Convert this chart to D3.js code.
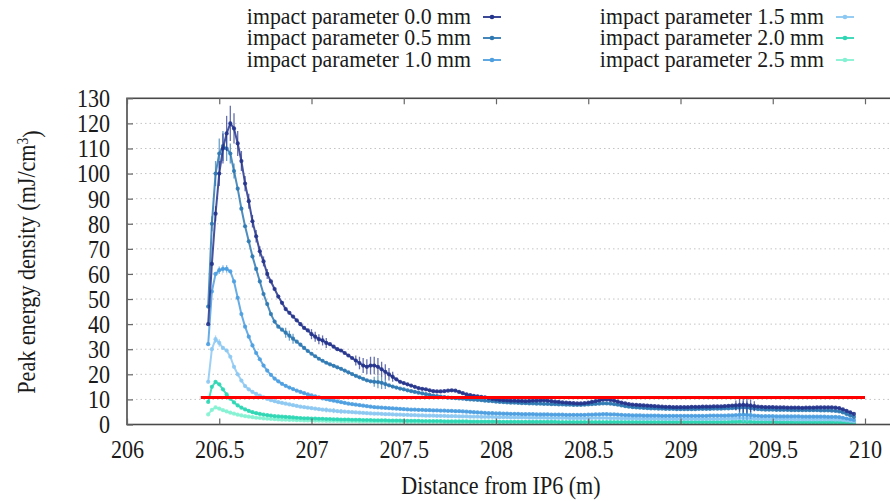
<!DOCTYPE html>
<html>
<head>
<meta charset="utf-8">
<script src="https://cdn.jsdelivr.net/npm/d3@7"></script>
<style>
body { margin: 0; background: #fff; }
text { font-family: "Liberation Serif", "Times New Roman", serif; fill: #1a1a1a; }
</style>
</head>
<body>
<div id="chart"></div>
<script>
// sampling of the scan: first position and step along the beam line (m)
var distStart = 206.44, distStep = 0.02, nPoints = 176;

// peak energy density (mJ/cm^3), one value per sampled position
var peak00 = [
  40, 64, 84, 100, 110, 116, 120, 118, 112, 105,
  96, 89, 81, 75, 69, 65, 60, 57, 54, 51,
  48.5, 46, 44.5, 43, 41.5, 40, 38.5, 37.5, 36, 35,
  34, 33.5, 32.5, 32, 31, 30, 29.5, 28.5, 27.5, 26.5,
  25.5, 24.5, 23.5, 23, 23.5, 23.5, 23, 22, 21, 20,
  19, 18, 17, 16.5, 16, 15.5, 15, 14.5, 14.2, 14,
  13.6, 13.3, 13.2, 13.2, 13.3, 13.5, 13.6, 13.5, 13, 12.5,
  12, 11.7, 11.4, 11.2, 11, 10.8, 10.5, 10.2, 10, 9.8,
  9.7, 9.6, 9.5, 9.5, 9.4, 9.4, 9.3, 9.4, 9.5, 9.5,
  9.6, 9.6, 9.5, 9.3, 9.1, 9.0, 8.8, 8.7, 8.6, 8.5,
  8.4, 8.4, 8.5, 8.7, 9.0, 9.3, 9.6, 9.9, 10.0, 9.8,
  9.5, 9.1, 8.7, 8.4, 8.1, 7.9, 7.8, 7.7, 7.6, 7.5,
  7.4, 7.3, 7.2, 7.1, 7.0, 7.0, 6.9, 6.9, 6.9, 6.9,
  6.9, 7.0, 7.0, 7.0, 7.1, 7.1, 7.1, 7.2, 7.2, 7.2,
  7.3, 7.4, 7.5, 7.6, 7.7, 7.8, 7.7, 7.5, 7.3, 7.1,
  7.0, 6.9, 6.9, 6.9, 6.8, 6.8, 6.8, 6.7, 6.7, 6.7,
  6.7, 6.6, 6.7, 6.7, 6.7, 6.8, 6.8, 6.8, 6.8, 6.8,
  6.7, 6.5, 6.0, 5.4, 4.8, 4.2
];
var peak05 = [
  47, 80, 100, 108, 111, 110, 108, 101, 94, 86,
  79, 73, 67, 62, 57, 52, 48, 44, 41, 39,
  37.8, 36.6, 35.4, 34.2, 33, 31.8, 30.5, 29.3, 28.2, 27.2,
  26.2, 25.4, 24.6, 24, 23.4, 22.8, 22.2, 21.5, 20.8, 20.1,
  19.4, 18.8, 18.2, 17.6, 17.2, 17, 16.9, 16.6, 16.1, 15.6,
  15.1, 14.7, 14.3, 14, 13.6, 13.3, 13, 12.7, 12.4, 12.1,
  11.8, 11.5, 11.3, 11.1, 10.9, 10.7, 10.6, 10.5, 10.4, 10.3,
  10.1, 10, 9.9, 9.8, 9.7, 9.5, 9.4, 9.3, 9.1, 9,
  8.9, 8.8, 8.7, 8.7, 8.6, 8.5, 8.5, 8.4, 8.4, 8.3,
  8.3, 8.2, 8.2, 8.1, 8.1, 8, 8, 7.9, 7.9, 7.8,
  7.8, 7.8, 7.9, 8, 8.1, 8.2, 8.3, 8.4, 8.4, 8.3,
  8.1, 7.9, 7.6, 7.3, 7.1, 6.9, 6.8, 6.7, 6.6, 6.5,
  6.4, 6.4, 6.3, 6.3, 6.2, 6.2, 6.2, 6.1, 6.1, 6.1,
  6.1, 6.1, 6.1, 6.2, 6.2, 6.2, 6.2, 6.3, 6.3, 6.3,
  6.4, 6.4, 6.5, 6.6, 6.7, 6.8, 6.7, 6.5, 6.3, 6.1,
  6, 5.9, 5.9, 5.9, 5.8, 5.8, 5.8, 5.8, 5.7, 5.7,
  5.7, 5.7, 5.7, 5.7, 5.7, 5.7, 5.6, 5.6, 5.6, 5.5,
  5.4, 5.2, 4.8, 4.2, 3.6, 3.0
];
var peak10 = [
  32, 53, 60, 61.5, 62, 62, 61, 57, 50.5, 44,
  39, 35, 31.5, 28.5, 26, 23.5, 21.5, 19.8, 18.3, 17.2,
  16.2, 15.4, 14.7, 14.1, 13.5, 13, 12.5, 12, 11.6, 11.2,
  10.8, 10.4, 10.1, 9.8, 9.5, 9.2, 8.9, 8.6, 8.3, 8.1,
  7.9, 7.7, 7.5, 7.3, 7.1, 6.9, 6.8, 6.7, 6.6, 6.5,
  6.4, 6.3, 6.2, 6.1, 6, 5.9, 5.9, 5.8, 5.8, 5.7,
  5.7, 5.6, 5.6, 5.5, 5.5, 5.4, 5.4, 5.3, 5.3, 5.2,
  5.1, 5, 4.9, 4.8, 4.7, 4.6, 4.5, 4.5, 4.4, 4.4,
  4.3, 4.3, 4.2, 4.2, 4.2, 4.1, 4.1, 4.1, 4.1, 4.0,
  4.0, 4.0, 4.0, 3.9, 3.9, 3.9, 3.9, 3.8, 3.8, 3.8,
  3.8, 3.8, 3.8, 3.9, 3.9, 4.0, 4.0, 4.1, 4.1, 4.0,
  4.0, 3.9, 3.8, 3.7, 3.7, 3.6, 3.6, 3.6, 3.5, 3.5,
  3.5, 3.5, 3.5, 3.4, 3.4, 3.4, 3.4, 3.4, 3.4, 3.4,
  3.4, 3.4, 3.4, 3.4, 3.4, 3.4, 3.5, 3.5, 3.5, 3.5,
  3.5, 3.6, 3.6, 3.7, 3.8, 3.9, 3.8, 3.7, 3.5, 3.4,
  3.3, 3.3, 3.3, 3.3, 3.2, 3.2, 3.2, 3.2, 3.2, 3.2,
  3.2, 3.1, 3.1, 3.1, 3.1, 3.1, 3.1, 3.1, 3.0, 3.0,
  3.0, 2.9, 2.7, 2.4, 2.1, 1.8
];
var peak15 = [
  17, 30, 34, 32.5, 30.5, 29.5, 27, 23, 20, 17.5,
  15.3, 14, 13, 12.2, 11.5, 10.8, 10.2, 9.7, 9.3, 8.9,
  8.6, 8.3, 8, 7.7, 7.4, 7.1, 6.9, 6.7, 6.5, 6.3,
  6.1, 5.9, 5.8, 5.6, 5.5, 5.3, 5.2, 5.1, 5, 4.9,
  4.8, 4.7, 4.6, 4.5, 4.4, 4.3, 4.3, 4.2, 4.1, 4.1,
  4.0, 3.9, 3.9, 3.8, 3.8, 3.7, 3.7, 3.6, 3.6, 3.5,
  3.5, 3.5, 3.4, 3.4, 3.4, 3.3, 3.3, 3.3, 3.2, 3.2,
  3.2, 3.1, 3.1, 3.1, 3.0, 3.0, 3.0, 3.0, 2.9, 2.9,
  2.9, 2.9, 2.8, 2.8, 2.8, 2.8, 2.8, 2.7, 2.7, 2.7,
  2.7, 2.7, 2.6, 2.6, 2.6, 2.6, 2.6, 2.6, 2.5, 2.5,
  2.5, 2.5, 2.5, 2.5, 2.6, 2.6, 2.6, 2.6, 2.6, 2.5,
  2.5, 2.5, 2.4, 2.4, 2.4, 2.4, 2.4, 2.3, 2.3, 2.3,
  2.3, 2.3, 2.3, 2.3, 2.2, 2.2, 2.2, 2.2, 2.2, 2.2,
  2.2, 2.2, 2.2, 2.2, 2.2, 2.2, 2.2, 2.2, 2.2, 2.2,
  2.3, 2.3, 2.4, 2.4, 2.5, 2.5, 2.5, 2.4, 2.3, 2.2,
  2.2, 2.1, 2.1, 2.1, 2.1, 2.1, 2.1, 2.1, 2.1, 2.0,
  2.0, 2.0, 2.0, 2.0, 2.0, 2.0, 2.0, 2.0, 2.0, 2.0,
  1.9, 1.9, 1.8, 1.6, 1.4, 1.2
];
var peak20 = [
  9, 15, 17, 16, 14, 12, 10.3, 8.8, 7.6, 6.7,
  6.0, 5.4, 4.9, 4.5, 4.2, 3.9, 3.7, 3.5, 3.3, 3.2,
  3.1, 3.0, 2.9, 2.8, 2.7, 2.6, 2.5, 2.5, 2.4, 2.4,
  2.3, 2.3, 2.2, 2.2, 2.1, 2.1, 2.0, 2.0, 2.0, 1.9,
  1.9, 1.9, 1.8, 1.8, 1.8, 1.7, 1.7, 1.7, 1.7, 1.6,
  1.6, 1.6, 1.6, 1.5, 1.5, 1.5, 1.5, 1.5, 1.4, 1.4,
  1.4, 1.4, 1.4, 1.4, 1.3, 1.3, 1.3, 1.3, 1.3, 1.3,
  1.3, 1.2, 1.2, 1.2, 1.2, 1.2, 1.2, 1.2, 1.2, 1.1,
  1.1, 1.1, 1.1, 1.1, 1.1, 1.1, 1.1, 1.1, 1.1, 1.1,
  1.1, 1.1, 1.1, 1.1, 1.1, 1.0, 1.0, 1.0, 1.0, 1.0,
  1.0, 1.0, 1.0, 1.0, 1.0, 1.0, 1.0, 1.0, 1.0, 1.0,
  1.0, 1.0, 1.0, 1.0, 1.0, 1.0, 1.0, 1.0, 1.0, 1.0,
  1.0, 1.0, 1.0, 1.0, 1.0, 1.0, 1.0, 1.0, 1.0, 1.0,
  1.0, 1.0, 1.0, 1.0, 1.0, 1.0, 1.0, 1.0, 1.0, 1.0,
  1.0, 1.0, 1.1, 1.1, 1.2, 1.2, 1.1, 1.1, 1.0, 1.0,
  1.0, 1.0, 1.0, 1.0, 1.0, 0.9, 0.9, 0.9, 0.9, 0.9,
  0.9, 0.9, 0.9, 0.9, 0.9, 0.9, 0.9, 0.9, 0.9, 0.9,
  0.9, 0.9, 0.8, 0.8, 0.7, 0.6
];
var peak25 = [
  4, 5.8, 6.8, 6.3, 5.7, 5.2, 4.7, 4.3, 3.9, 3.6,
  3.3, 3.1, 2.9, 2.7, 2.6, 2.4, 2.3, 2.2, 2.1, 2.0,
  1.9, 1.9, 1.8, 1.8, 1.7, 1.7, 1.6, 1.6, 1.6, 1.5,
  1.5, 1.5, 1.4, 1.4, 1.4, 1.4, 1.3, 1.3, 1.3, 1.3,
  1.3, 1.2, 1.2, 1.2, 1.2, 1.2, 1.2, 1.1, 1.1, 1.1,
  1.1, 1.1, 1.1, 1.1, 1.0, 1.0, 1.0, 1.0, 1.0, 1.0,
  1.0, 1.0, 1.0, 1.0, 0.9, 0.9, 0.9, 0.9, 0.9, 0.9,
  0.9, 0.9, 0.9, 0.9, 0.9, 0.9, 0.9, 0.9, 0.9, 0.9,
  0.9, 0.9, 0.9, 0.9, 0.9, 0.8, 0.8, 0.8, 0.8, 0.8,
  0.8, 0.8, 0.8, 0.8, 0.8, 0.8, 0.8, 0.8, 0.8, 0.8,
  0.8, 0.8, 0.8, 0.8, 0.8, 0.8, 0.8, 0.8, 0.8, 0.8,
  0.8, 0.8, 0.8, 0.8, 0.8, 0.8, 0.8, 0.8, 0.8, 0.8,
  0.8, 0.8, 0.8, 0.8, 0.8, 0.8, 0.8, 0.8, 0.8, 0.8,
  0.8, 0.8, 0.8, 0.8, 0.8, 0.8, 0.8, 0.8, 0.8, 0.8,
  0.8, 0.8, 0.9, 0.9, 0.9, 0.9, 0.9, 0.8, 0.8, 0.8,
  0.8, 0.8, 0.8, 0.8, 0.8, 0.7, 0.7, 0.7, 0.7, 0.7,
  0.7, 0.7, 0.7, 0.7, 0.7, 0.7, 0.7, 0.7, 0.7, 0.7,
  0.7, 0.7, 0.6, 0.6, 0.5, 0.5
];

// visible error bars: [position (m), half-height (mJ/cm^3)]
var err00 = [[206.48,3],[206.50,5],[206.52,6],[206.54,7],[206.56,7],[206.58,6],[206.60,5],[206.62,4],
  [206.64,3],[206.66,3],[206.68,2.5],[206.70,2.5],[206.72,2],[206.74,2],[206.76,2],
  [207.00,2],[207.02,2],[207.04,2],[207.06,2],[207.08,2],
  [207.24,2],[207.26,2.5],[207.28,3],[207.30,3],[207.32,3.5],[207.34,3.5],[207.36,3.5],[207.38,3],[207.40,3],[207.42,2.5],[207.44,2],
  [209.30,2],[209.32,2.5],[209.34,3],[209.36,3],[209.38,2.5],[209.40,2]];
var err05 = [[206.46,3],[206.48,5],[206.50,6],[206.52,6],[206.54,5],[206.56,4],[206.58,3],
  [206.86,2],[206.88,2],[206.90,2],[207.34,2],[207.36,2.5],[207.38,2.5],[207.40,2],
  [209.32,2],[209.34,2.5],[209.36,2.5],[209.38,2]];
var err10 = [[206.50,1.5],[206.52,1.5],[206.54,1.5],[209.32,1.5],[209.34,2],[209.36,2],[209.38,1.5]];
var err15 = [[206.48,1.5],[206.50,1.5],[207.08,1],[207.12,1],[207.16,1],[209.34,1.5],[209.36,1.5]];

var seriesNames = ["impact parameter 0.0 mm", "impact parameter 0.5 mm", "impact parameter 1.0 mm",
                   "impact parameter 1.5 mm", "impact parameter 2.0 mm", "impact parameter 2.5 mm"];
var seriesColors = ["#25348c", "#2f79b2", "#4d9fe0", "#8cc8f2", "#2ed6b4", "#84f2d2"];

var threshold = 10.8, thresholdFrom = 206.4, thresholdTo = 210;

var xTicks = [206, 206.5, 207, 207.5, 208, 208.5, 209, 209.5, 210];
var yTicks = d3.range(0, 131, 10);

var W = 890, H = 501;
var sx = 0.85; // glyphs in the original are narrower than they are tall

var distances = d3.range(nPoints).map(function(i) { return +(distStart + i * distStep).toFixed(2); });
var allPeaks = [peak00, peak05, peak10, peak15, peak20, peak25];
var allErr = [err00, err05, err10, err15, [], []];

var series = allPeaks.map(function(vals, k) {
  var errMap = {};
  allErr[k].forEach(function(e) { errMap[e[0].toFixed(2)] = e[1]; });
  return {
    name: seriesNames[k],
    color: seriesColors[k],
    points: vals.map(function(v, i) {
      return {d: distances[i], v: v, e: errMap[distances[i].toFixed(2)] || 0};
    })
  };
});

var x = d3.scaleLinear().domain([206, 210]).range([127, 865]);
var y = d3.scaleLinear().domain([0, 130]).range([424.5, 98.3]);
var plotRight = 900;

var svg = d3.select("#chart").append("svg")
    .attr("width", W)
    .attr("height", H);

// dotted grid
svg.append("g").selectAll("line")
    .data(yTicks.filter(function(t) { return t > 0 && t < 130; }))
  .enter().append("line")
    .attr("x1", x(206)).attr("x2", plotRight)
    .attr("y1", function(d) { return y(d); })
    .attr("y2", function(d) { return y(d); })
    .style("stroke", "#c4c4c4")
    .style("stroke-width", 1)
    .style("stroke-dasharray", "1.5,3");

// series, widest first so the dark curve sits on top
var line = d3.line()
    .x(function(p) { return x(p.d); })
    .y(function(p) { return y(p.v); });

series.slice().reverse().forEach(function(s) {
  var g = svg.append("g");
  g.selectAll("line.err")
      .data(s.points.filter(function(p) { return p.e > 0; }))
    .enter().append("line")
      .attr("class", "err")
      .attr("x1", function(p) { return x(p.d); })
      .attr("x2", function(p) { return x(p.d); })
      .attr("y1", function(p) { return y(p.v - p.e); })
      .attr("y2", function(p) { return y(p.v + p.e); })
      .style("stroke", s.color)
      .style("stroke-width", 1.3)
      .style("opacity", 0.7);
  g.append("path")
      .attr("d", line(s.points))
      .style("fill", "none")
      .style("stroke", s.color)
      .style("stroke-width", 2)
      .style("opacity", 0.85);
  g.selectAll("circle")
      .data(s.points)
    .enter().append("circle")
      .attr("cx", function(p) { return x(p.d); })
      .attr("cy", function(p) { return y(p.v); })
      .attr("r", 2.1)
      .style("fill", s.color)
      .style("opacity", 0.9);
});

// red threshold line
svg.append("line")
    .attr("x1", x(thresholdFrom)).attr("x2", x(thresholdTo))
    .attr("y1", y(threshold)).attr("y2", y(threshold))
    .style("stroke", "#ff0000")
    .style("stroke-width", 3);

// frame
svg.append("rect")
    .attr("x", x(206)).attr("y", y(130))
    .attr("width", plotRight - x(206))
    .attr("height", y(0) - y(130))
    .style("fill", "none")
    .style("stroke", "#4a4a4a")
    .style("stroke-width", 1.6);

// axes
var yAxis = svg.append("g")
    .attr("transform", "translate(" + x(206) + ",0)")
    .call(d3.axisLeft(y).tickValues(yTicks).tickSize(-6).tickPadding(20));
var xAxis = svg.append("g")
    .attr("transform", "translate(0," + y(0) + ")")
    .call(d3.axisBottom(x).tickValues(xTicks).tickSize(-6).tickPadding(15).tickFormat(d3.format("")));
var xTop = svg.append("g")
    .attr("transform", "translate(0," + y(130) + ")")
    .call(d3.axisTop(x).tickValues(xTicks).tickSize(-6).tickFormat(""));

[yAxis, xAxis, xTop].forEach(function(a) {
  a.select(".domain").remove();
  a.selectAll(".tick line").style("stroke", "#666").style("stroke-width", 1.2);
  a.selectAll(".tick text")
      .style("font-family", "'Liberation Serif', serif")
      .style("font-size", "26px")
      .style("fill", "#1a1a1a")
      .attr("transform", "scale(" + sx + ",1)");
});

// axis titles
svg.append("g")
    .attr("transform", "translate(" + ((x(206) + x(210)) / 2 + 5) + ",494)")
  .append("text")
    .attr("transform", "scale(" + sx + ",1)")
    .attr("text-anchor", "middle")
    .style("font-size", "26px")
    .text("Distance from IP6 (m)");

var yTitle = svg.append("g")
    .attr("transform", "translate(35,262) rotate(-90)")
  .append("text")
    .attr("transform", "scale(" + sx + ",1)")
    .attr("text-anchor", "middle")
    .style("font-size", "26px");
yTitle.append("tspan").text("Peak energy density (mJ/cm");
yTitle.append("tspan").attr("dy", "-0.45em").style("font-size", "16px").text("3");
yTitle.append("tspan").attr("dy", "0.45em").text(")");

// legend, two columns of three
var legendCols = [{textRight: 471, mark: 492}, {textRight: 824, mark: 845}];
var legendRows = [17, 38, 60];
var legendSx = 0.97;
series.forEach(function(s, k) {
  var col = legendCols[Math.floor(k / 3)], rowY = legendRows[k % 3];
  var g = svg.append("g");
  g.append("g")
      .attr("transform", "translate(" + col.textRight + "," + rowY + ")")
    .append("text")
      .attr("transform", "scale(" + legendSx + ",1)")
      .attr("text-anchor", "end")
      .attr("dy", "0.33em")
      .style("font-size", "22.5px")
      .text(s.name);
  g.append("line")
      .attr("x1", col.mark - 9).attr("x2", col.mark + 9)
      .attr("y1", rowY).attr("y2", rowY)
      .style("stroke", s.color)
      .style("stroke-width", 1.8);
  g.append("circle")
      .attr("cx", col.mark).attr("cy", rowY).attr("r", 2.3)
      .style("fill", s.color);
});
</script>
</body>
</html>
